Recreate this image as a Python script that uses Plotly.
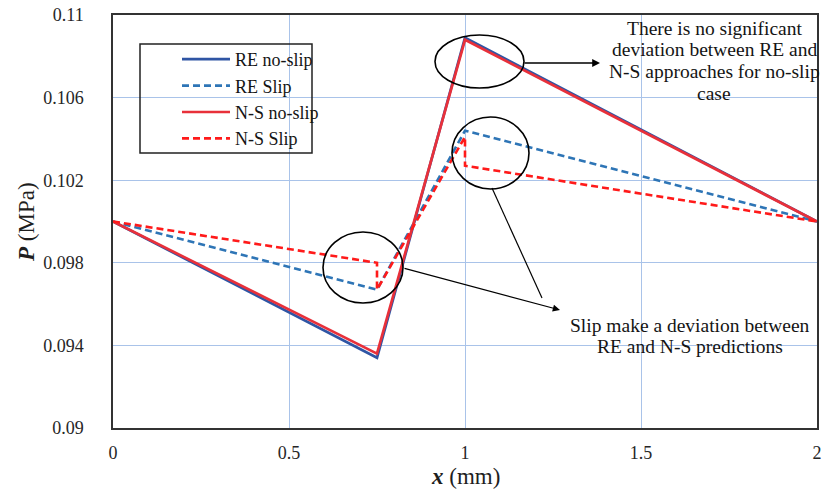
import plotly.graph_objects as go

# ---- data ----
x_re_noslip = [0.0, 0.75, 1.0, 2.0]
p_re_noslip = [0.1, 0.0934, 0.1089, 0.1]
x_re_slip = [0.0, 0.75, 1.0, 2.0]
p_re_slip = [0.1, 0.0967, 0.1044, 0.1]
x_ns_noslip = [0.0, 0.75, 1.0, 2.0]
p_ns_noslip = [0.1, 0.0936, 0.1088, 0.1]
x_ns_slip = [0.0, 0.75, 0.75, 1.0, 1.0, 2.0]
p_ns_slip = [0.1, 0.0980, 0.0967, 0.1041, 0.1027, 0.1]

x_ticks = [0, 0.5, 1, 1.5, 2]
x_ticklabels = ["0", "0.5", "1", "1.5", "2"]
y_ticks = [0.09, 0.094, 0.098, 0.102, 0.106, 0.11]
y_ticklabels = ["0.09", "0.094", "0.098", "0.102", "0.106", "0.11"]

W, H = 824, 493
ML, MR, MT, MB = 113, 7, 15, 65
X0, X1 = 0.0, 2.0
Y0, Y1 = 0.09, 0.11
PW = W - ML - MR
PH = H - MT - MB


def dx(px):
    return X0 + (px - ML) / PW * (X1 - X0)


def dy(py):
    return Y0 + (H - MB - py) / PH * (Y1 - Y0)


def fx(px):
    return (px - ML) / PW


def fy(py):
    return (H - MB - py) / PH


FONT = "Liberation Serif, Times New Roman, serif"

fig = go.Figure()
fig.add_trace(go.Scatter(x=x_re_noslip, y=p_re_noslip, mode="lines", name="RE no-slip",
                         legendgroup="a", line=dict(color="#2f55a4", width=2.7)))
fig.add_trace(go.Scatter(x=x_re_slip, y=p_re_slip, mode="lines", name="RE Slip",
                         legendgroup="b", line=dict(color="#2e75b6", width=2.6, dash="7px,4px")))
fig.add_trace(go.Scatter(x=x_ns_noslip, y=p_ns_noslip, mode="lines", name="N-S no-slip",
                         legendgroup="c", line=dict(color="#e8303a", width=2.7)))
fig.add_trace(go.Scatter(x=x_ns_slip, y=p_ns_slip, mode="lines", name="N-S Slip",
                         legendgroup="d", line=dict(color="#ff1a1a", width=2.6, dash="7px,4px")))

shapes = []
# legend frame
shapes.append(dict(type="rect", xref="paper", yref="paper",
                   x0=fx(140), x1=fx(312), y0=fy(153), y1=fy(44),
                   line=dict(color="#222222", width=1.5), fillcolor="rgba(0,0,0,0)"))
# ellipses
for (a, b, c, d) in [(435, 524, 35, 88), (452, 529, 117, 189), (323, 403, 232, 303)]:
    shapes.append(dict(type="circle", xref="x", yref="y",
                       x0=dx(a), x1=dx(b), y0=dy(d), y1=dy(c),
                       line=dict(color="black", width=1.6)))
# connector line from middle ellipse
shapes.append(dict(type="line", xref="x", yref="y",
                   x0=dx(492), y0=dy(188), x1=dx(542), y1=dy(298),
                   line=dict(color="black", width=1.2)))

annotations = []
annotations.append(dict(x=dx(600), y=dy(63), xref="x", yref="y", ax=-77, ay=0,
                        text="", showarrow=True, arrowhead=2, arrowsize=1.2,
                        arrowwidth=1.3, arrowcolor="black"))
annotations.append(dict(x=dx(560), y=dy(310), xref="x", yref="y", ax=-157, ay=-42,
                        text="", showarrow=True, arrowhead=2, arrowsize=1.2,
                        arrowwidth=1.2, arrowcolor="black"))
box1 = ["There is no significant", "deviation between RE and",
        "N-S approaches for no-slip", "case"]
for i, t in enumerate(box1):
    annotations.append(dict(x=dx(714), y=dy(28 + i * 21.7), xref="x", yref="y",
                            text=t, showarrow=False, xanchor="center", yanchor="middle",
                            font=dict(family=FONT, size=19.5, color="#141414")))
box2 = ["Slip make a deviation between", "RE and N-S predictions"]
for i, t in enumerate(box2):
    annotations.append(dict(x=dx(690), y=dy(325 + i * 21.5), xref="x", yref="y",
                            text=t, showarrow=False, xanchor="center", yanchor="middle",
                            font=dict(family=FONT, size=19.5, color="#141414")))
# axis titles
annotations.append(dict(x=fx(465), y=fy(476), xref="paper", yref="paper",
                        text="<b><i>x</i></b> (mm)", showarrow=False,
                        xanchor="center", yanchor="middle",
                        font=dict(family=FONT, size=23, color="#1e1e1e")))
annotations.append(dict(x=fx(26), y=fy(222), xref="paper", yref="paper",
                        text="<b><i>P</i></b> (MPa)", showarrow=False, textangle=-90,
                        xanchor="center", yanchor="middle",
                        font=dict(family=FONT, size=23, color="#1e1e1e")))

fig.update_layout(
    width=W, height=H,
    margin=dict(l=ML, r=MR, t=MT, b=MB, pad=0, autoexpand=False),
    paper_bgcolor="white", plot_bgcolor="white",
    font=dict(family=FONT, size=18, color="#262626"),
    shapes=shapes, annotations=annotations,
    showlegend=True,
    legend=dict(x=fx(177), y=fy(41), xanchor="left", yanchor="top",
                bgcolor="rgba(0,0,0,0)", borderwidth=0, itemwidth=48,
                tracegroupgap=1.5, traceorder="normal",
                font=dict(family=FONT, size=18, color="#141414")),
    xaxis=dict(range=[X0, X1], tickvals=x_ticks, ticktext=x_ticklabels,
               showgrid=True, gridcolor="#a9c3e9", gridwidth=1, zeroline=False,
               showline=True, mirror=True, linecolor="#333333", linewidth=1.5,
               ticks="", ticklabelstandoff=8, automargin=False),
    yaxis=dict(range=[Y0, Y1], tickvals=y_ticks, ticktext=y_ticklabels,
               showgrid=True, gridcolor="#a9c3e9", gridwidth=1, zeroline=False,
               showline=True, mirror=True, linecolor="#333333", linewidth=1.5,
               ticks="", ticklabelstandoff=24, automargin=False),
)

fig.write_html("out.html", config={"displayModeBar": False},
               post_script="document.body.style.margin='0px';document.body.style.overflow='hidden';")
